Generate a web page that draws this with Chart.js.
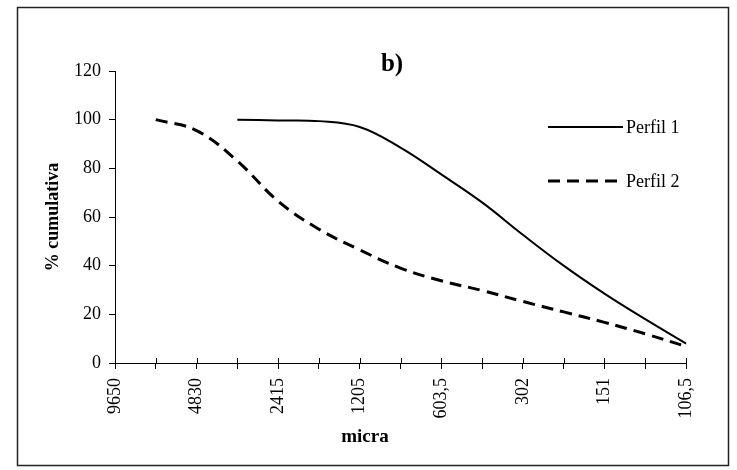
<!DOCTYPE html>
<html>
<head>
<meta charset="utf-8">
<script src="https://cdn.jsdelivr.net/npm/chart.js@4.4.0/dist/chart.umd.min.js"></script>
<style>
  body { margin: 0; background: #fff; }
  #wrap { width: 737px; height: 470px; position: relative; }
</style>
</head>
<body>
<div id="wrap"><canvas id="sieveChart" width="737" height="470"></canvas></div>
<script>
// sieve sizes (micra), only every other one is labelled in the original
const sizes = ['9650', '', '4830', '', '2415', '', '1205', '', '603,5', '', '302', '', '151', '', '106,5'];

// % cumulativa
const perfil1 = [null, null, null, 100, 99.7, 99.4, 97, 88.5, 77.5, 66, 52.7, 40, 28.5, 18, 8];
const perfil2 = [null, 100, 95.5, 83, 66.5, 55, 46.5, 39, 33.8, 29.8, 25.3, 21, 16.7, 12, 6.8];

const serif = "'Liberation Serif', 'Times New Roman', serif";

// frame, title, x-axis title, crossing tick marks and legend drawn by hand (excel look)
const extras = {
  id: 'extras',
  afterDraw(chart) {
    const ctx = chart.ctx;
    const xs = chart.scales.x;
    ctx.save();
    ctx.strokeStyle = '#222';
    ctx.lineWidth = 1.5;
    ctx.strokeRect(17.5, 7.5, 711, 458);

    // tick marks cross the x axis
    ctx.strokeStyle = '#000';
    ctx.lineWidth = 1;
    ctx.beginPath();
    xs.ticks.forEach(function(t, i) {
      const px = Math.round(xs.getPixelForTick(i)) + 0.5;
      ctx.moveTo(px, xs.top - 5);
      ctx.lineTo(px, xs.top);
    });
    ctx.stroke();

    ctx.fillStyle = '#000';
    ctx.textAlign = 'center';
    ctx.textBaseline = 'middle';
    ctx.font = 'bold 25px ' + serif;
    ctx.fillText('b)', 392, 65);
    ctx.font = 'bold 19px ' + serif;
    ctx.fillText('micra', 365, 437);

    // legend
    const ds = chart.data.datasets;
    const rows = [127, 181];
    ctx.textAlign = 'left';
    ctx.font = '18px ' + serif;
    ds.forEach(function(d, i) {
      const y = rows[i];
      ctx.beginPath();
      ctx.strokeStyle = d.borderColor;
      ctx.lineWidth = d.borderWidth;
      ctx.setLineDash(d.borderDash || []);
      ctx.moveTo(548, y);
      ctx.lineTo(623, y);
      ctx.stroke();
      ctx.setLineDash([]);
      ctx.fillText(d.label, 626, y + 1);
    });
    ctx.restore();
  }
};

const data = {
  labels: sizes,
  datasets: [{
    label: 'Perfil 1',
    data: perfil1,
    borderColor: '#000',
    borderWidth: 2,
    pointRadius: 0,
    tension: 0.4,
    fill: false
  }, {
    label: 'Perfil 2',
    data: perfil2,
    borderColor: '#000',
    borderWidth: 3,
    borderDash: [12, 7],
    pointRadius: 0,
    tension: 0.4,
    fill: false
  }]
};

const config = {
  type: 'line',
  data: data,
  options: {
    responsive: false,
    animation: false,
    layout: { padding: { left: 39, right: 51, top: 71, bottom: 0 } },
    plugins: {
      legend: { display: false },
      title: { display: false },
      tooltip: { enabled: false }
    },
    scales: {
      x: {
        offset: false,
        afterFit: function(scale) { scale.height = 107; },
        border: { color: '#000', width: 1 },
        grid: { drawOnChartArea: false, tickLength: 6, color: '#000' },
        ticks: {
          autoSkip: false,
          minRotation: 90,
          maxRotation: 90,
          padding: 9,
          color: '#000',
          font: { family: serif, size: 18 }
        }
      },
      y: {
        min: 0,
        max: 120,
        afterFit: function(scale) { scale.width = 76; },
        border: { color: '#000', width: 1 },
        grid: { drawOnChartArea: false, tickLength: 6, color: '#000' },
        ticks: {
          stepSize: 20,
          padding: 8,
          color: '#000',
          font: { family: serif, size: 18 }
        },
        title: {
          display: true,
          text: '% cumulativa',
          color: '#000',
          font: { family: serif, size: 18, weight: 'bold' }
        }
      }
    }
  },
  plugins: [extras]
};

const sieveChart = new Chart(document.getElementById('sieveChart'), config);
</script>
</body>
</html>
